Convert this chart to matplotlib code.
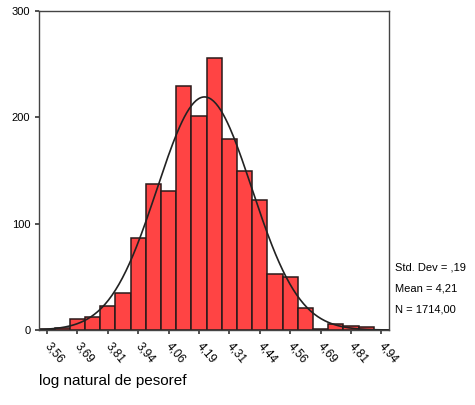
import numpy as np
import matplotlib
matplotlib.use("Agg")
import matplotlib.pyplot as plt

plt.rcParams['font.family'] = ['Liberation Sans', 'DejaVu Sans']

# frequencies of log(pesoref), bins of width 0.0625 starting at 3.53125
counts = [1, 2, 10, 12, 23, 35, 87, 137, 131, 229, 201, 256,
          180, 150, 122, 53, 50, 21, 1, 6, 4, 3, 0]
bin_start = 3.53125
bin_width = 0.0625
tick_vals = [3.5625, 3.6875, 3.8125, 3.9375, 4.0625, 4.1875,
             4.3125, 4.4375, 4.5625, 4.6875, 4.8125, 4.9375]
tick_labels = ['3,56', '3,69', '3,81', '3,94', '4,06', '4,19',
               '4,31', '4,44', '4,56', '4,69', '4,81', '4,94']
media = 4.21
desvio = 0.195   # mostrado arredondado como ,19
n = 1714

fig = plt.figure(figsize=(4.75, 4.05), dpi=100)
ax = fig.add_axes([0.083, 0.185, 0.736, 0.788])

centros = bin_start + bin_width * (np.arange(len(counts)) + 0.5)
ax.bar(centros, counts, width=bin_width, color='#ff4444',
       edgecolor='#2a1a1a', linewidth=1.1)

# curva normal com a mesma media e desvio
xs = np.linspace(bin_start, bin_start + bin_width * len(counts), 300)
ys = n * bin_width * np.exp(-0.5 * ((xs - media) / desvio) ** 2) / (desvio * np.sqrt(2 * np.pi))
ax.plot(xs, ys, color='#222222', linewidth=1.2)

ax.set_xlim(bin_start, bin_start + bin_width * len(counts))
ax.set_ylim(0, 300)
ax.set_yticks([0, 100, 200, 300])
ax.set_yticklabels(['0', '100', '200', '300'], fontsize=8)
ax.set_xticks(tick_vals)
ax.set_xticklabels(tick_labels, fontsize=8.5, rotation=-50,
                   ha='left', va='center', rotation_mode='anchor')
ax.tick_params(axis='both', direction='out', length=3, width=1.2, color='#333333')
ax.tick_params(axis='x', pad=7)
for s in ax.spines.values():
    s.set_color('#444444')
    s.set_linewidth(1.0)

fig.text(0.832, 0.333, 'Std. Dev = ,19', fontsize=8)
fig.text(0.832, 0.281, 'Mean = 4,21', fontsize=8)
fig.text(0.832, 0.228, 'N = 1714,00', fontsize=8)

fig.text(0.083, 0.050, 'log natural de pesoref', fontsize=11)

fig.savefig('out.png', dpi=100)
